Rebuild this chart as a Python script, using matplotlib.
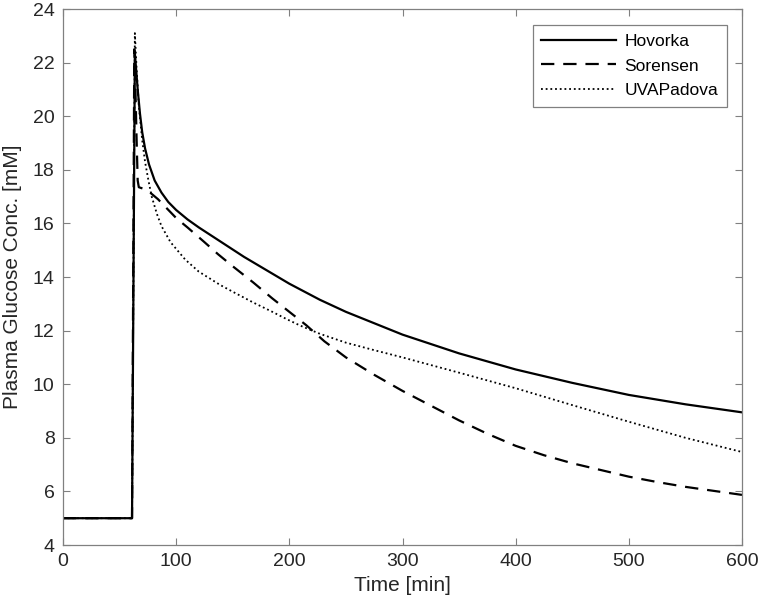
import matplotlib
matplotlib.use("Agg")
import matplotlib.pyplot as plt
import numpy as np

plt.rcParams['font.family'] = ['Liberation Sans', 'DejaVu Sans']

# Hovorka model
hov_t = [0, 61, 63.5, 66, 68, 70, 72.5, 76, 81, 87, 93, 100, 110, 120, 140, 160, 180, 200, 227, 250,
         300, 350, 400, 450, 500, 550, 600]
hov_g = [5, 5, 22.35, 21.0, 20.1, 19.4, 18.8, 18.2, 17.6, 17.15, 16.8, 16.5, 16.15, 15.85, 15.3, 14.75, 14.25, 13.75, 13.15, 12.7,
         11.85, 11.15, 10.55, 10.05, 9.6, 9.25, 8.95]

# Sorensen model
sor_t = [0, 61, 63, 64, 65, 66, 67, 72, 77, 84, 92, 100, 110, 125, 137, 150, 168, 185, 200, 215, 231, 250,
         275, 300, 325, 350, 375, 400, 425, 450, 475, 500, 525, 550, 575, 600]
sor_g = [5, 5, 22.5, 21.0, 19.2, 17.6, 17.35, 17.28, 17.15, 16.9, 16.55, 16.2, 15.85, 15.3, 14.85, 14.4, 13.8, 13.2, 12.7, 12.2, 11.6, 11.0,
         10.35, 9.75, 9.2, 8.65, 8.15, 7.7, 7.35, 7.05, 6.8, 6.55, 6.35, 6.17, 6.02, 5.87]

# UVA/Padova model
uva_t = [0, 61, 63.5, 65, 67, 70, 72.5, 75.5, 78.4, 83, 87, 95, 108, 120, 139, 150, 168, 185, 198, 210, 227, 250,
         275, 300, 350, 400, 450, 500, 550, 600]
uva_g = [5, 5, 23.1, 21.8, 20.4, 19.1, 18.3, 17.6, 17.0, 16.35, 15.9, 15.3, 14.65, 14.2, 13.7, 13.45, 13.05, 12.7, 12.42, 12.18, 11.88, 11.55,
         11.27, 11.0, 10.43, 9.85, 9.22, 8.6, 8.0, 7.47]

xticks = [0, 100, 200, 300, 400, 500, 600]
yticks = [4, 6, 8, 10, 12, 14, 16, 18, 20, 22, 24]

fig = plt.figure(figsize=(7.61, 6.13), dpi=100)
ax = fig.add_axes([63/761, 1 - 545/613, (742 - 63)/761, (545 - 9)/613])

ax.plot(hov_t, hov_g, color='black', lw=1.6, ls='-', label='Hovorka')
ax.plot(sor_t, sor_g, color='black', lw=1.6, ls=(0, (6, 4)), label='Sorensen')
ax.plot(uva_t, uva_g, color='black', lw=1.3, ls=(0, (1, 1.6)), label='UVAPadova')

ax.set_xlim(0, 600)
ax.set_ylim(4, 24)
ax.set_xticks(xticks)
ax.set_yticks(yticks)

axis_col = '#262626'
for s in ax.spines.values():
    s.set_color('#808080')
    s.set_linewidth(0.9)
ax.tick_params(direction='in', length=5, width=0.8, color='#808080',
               labelsize=14, labelcolor=axis_col, top=True, right=True, pad=6)

ax.set_xlabel('Time [min]', fontsize=15, color=axis_col, labelpad=4)
ax.set_ylabel('Plasma Glucose Conc. [mM]', fontsize=15, color=axis_col, labelpad=8)

leg = ax.legend(loc='upper right', bbox_to_anchor=(727/761, 1 - 25/613), bbox_transform=fig.transFigure,
                fontsize=12.5, frameon=True, fancybox=False, framealpha=1,
                handlelength=4.3, handletextpad=0.5, borderpad=0.5, labelspacing=0.55, borderaxespad=0)
leg.get_frame().set_edgecolor('#808080')
leg.get_frame().set_linewidth(0.9)
for t in leg.get_texts():
    t.set_color('black')

fig.savefig('out.png', dpi=100)
